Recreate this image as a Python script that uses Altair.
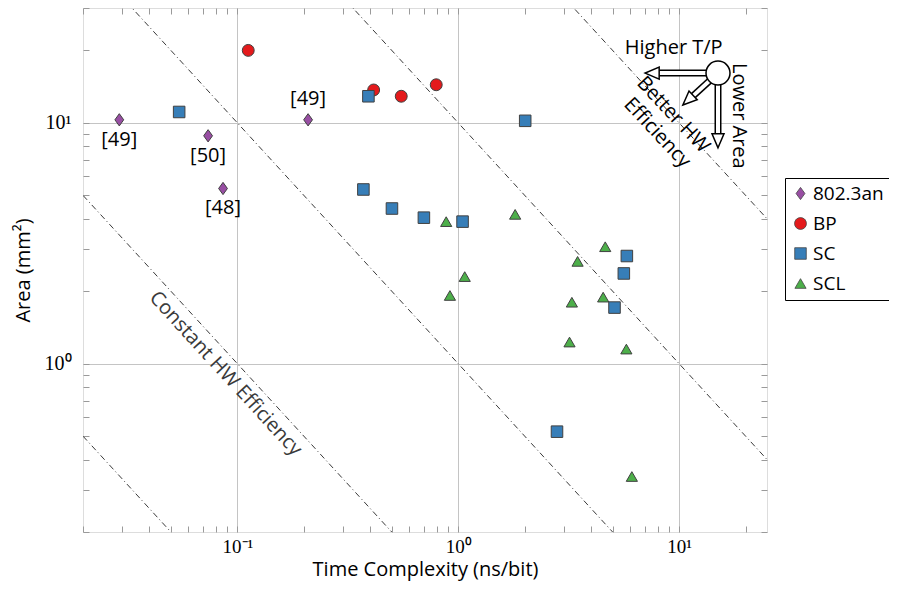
import altair as alt
import pandas as pd

# ---------------- data ----------------
series_names = ["802.3an", "BP", "SC", "SCL"]
series_colors = ["#984ea3", "#e41a1c", "#377eb8", "#4daf4a"]
DIAMOND = "M0,-1L0.72,0L0,1L-0.72,0Z"
series_shapes = [DIAMOND, "circle", "square", "triangle-up"]
series_sizes = [150, 125, 125, 165]

an_x = [0.0292, 0.0737, 0.0861, 0.209]
an_y = [10.3, 8.84, 5.34, 10.3]
an_ref = ["[49]", "[50]", "[48]", "[49]"]
an_ref_pos = ["below", "below", "below", "above"]

bp_x = [0.112, 0.414, 0.552, 0.795]
bp_y = [20.0, 13.7, 12.9, 14.4]

sc_x = [0.0545, 0.392, 0.372, 2.01, 0.501, 0.699, 1.046, 5.80, 5.62, 5.10, 2.80]
sc_y = [11.1, 12.9, 5.29, 10.2, 4.41, 4.04, 3.89, 2.80, 2.37, 1.71, 0.522]

scl_x = [0.882, 1.81, 4.63, 3.47, 1.07, 0.917, 3.27, 4.53, 3.19, 5.77, 6.11]
scl_y = [3.89, 4.17, 3.06, 2.66, 2.30, 1.92, 1.80, 1.89, 1.23, 1.15, 0.340]

# constant HW efficiency lines (area * time = const)
eff_products = [0.01, 0.1, 1, 10, 100]
eff_x_ends = [0.02, 25]

x_domain = [0.02, 25]
y_domain = [0.2, 30]
x_major = [0.1, 1, 10]
y_major = [1, 10]
x_ticks = [0.02, 0.03, 0.04, 0.05, 0.06, 0.07, 0.08, 0.09,
           0.1, 0.2, 0.3, 0.4, 0.5, 0.6, 0.7, 0.8, 0.9,
           1, 2, 3, 4, 5, 6, 7, 8, 9, 10, 20]
y_ticks = [0.2, 0.3, 0.4, 0.5, 0.6, 0.7, 0.8, 0.9,
           1, 2, 3, 4, 5, 6, 7, 8, 9, 10, 20, 30]

# annotation (direction legend)
circ_x = [15.0]
circ_y = [16.1]
shaft_x1 = [8.12, 15.0, 11.6]
shaft_y1 = [16.1, 9.0, 12.98]
tip_x = [7.02, 15.0, 10.4]
tip_y = [16.1, 7.88, 11.87]
tip_angle = [180, 90, 137]

ann_text = ["Higher T/P", "Lower Area", "Better HW", "Efficiency"]
ann_x = [9.45, 18.6, 9.4, 7.95]
ann_y = [20.4, 10.7, 10.8, 9.1]
ann_angle = [0, 90, 47, 47]

const_text = ["Constant HW Efficiency"]
const_x = [0.0883]
const_y = [0.909]
const_angle = [47.5]

FONT = "Open Sans"
SERIF = "Liberation Serif"
FS = 20

# ---------------- frames ----------------
pts = pd.concat([
    pd.DataFrame({"series": "802.3an", "x": an_x, "y": an_y}),
    pd.DataFrame({"series": "BP", "x": bp_x, "y": bp_y}),
    pd.DataFrame({"series": "SC", "x": sc_x, "y": sc_y}),
    pd.DataFrame({"series": "SCL", "x": scl_x, "y": scl_y}),
], ignore_index=True)

refs = pd.DataFrame({"x": an_x, "y": an_y, "ref": an_ref, "pos": an_ref_pos})

eff = pd.DataFrame([{"p": p, "x": xe, "y": p / xe} for p in eff_products for xe in eff_x_ends])

arrows = pd.DataFrame({
    "x0": circ_x * 3, "y0": circ_y * 3,
    "x1": shaft_x1, "y1": shaft_y1,
    "tx": tip_x, "ty": tip_y, "ang": tip_angle,
})
circ = pd.DataFrame({"x": circ_x, "y": circ_y})
ann = pd.DataFrame({"t": ann_text, "x": ann_x, "y": ann_y, "ang": ann_angle})
const = pd.DataFrame({"t": const_text, "x": const_x, "y": const_y, "ang": const_angle})

xs = alt.Scale(type="log", domain=x_domain, nice=False)
ys = alt.Scale(type="log", domain=y_domain, nice=False)

sup_x = ("datum.value < 0.5 ? '10\u207b\u00b9' : datum.value < 5 ? '10\u2070' : '10\u00b9'")
sup_y = ("datum.value < 5 ? '10\u2070' : '10\u00b9'")

legend = alt.Legend(
    title=None, orient="none", legendX=702, legendY=170,
    labelFont=FONT, labelFontSize=19, labelColor="#000",
    symbolSize=110, symbolStrokeColor="#444", symbolStrokeWidth=0.8,
    rowPadding=10, padding=6, strokeColor="#000", fillColor="#fff",
    labelOffset=3,
)

main_x_axis = alt.Axis(values=x_major, labelExpr=sup_x, grid=True, gridColor="#c4c4c4",
                       ticks=False, domain=False, labelFont=SERIF, labelFontSize=19,
                       labelColor="#000", labelPadding=5, title="Time Complexity (ns/bit)",
                       titleFont=FONT, titleFontSize=FS, titleFontWeight="normal",
                       titleColor="#000", titlePadding=3, orient="bottom")
main_y_axis = alt.Axis(values=y_major, labelExpr=sup_y, grid=True, gridColor="#c4c4c4",
                       ticks=False, domain=False, labelFont=SERIF, labelFontSize=20,
                       labelColor="#000", labelPadding=12, title="Area (mm\u00b2)",
                       titleFont=FONT, titleFontSize=FS, titleFontWeight="normal",
                       titleColor="#000", titlePadding=11, orient="left")


def tick_axis(orient, values):
    return alt.Axis(orient=orient, values=values, offset=-6, tickSize=6, tickColor="#9a9a9a",
                    tickWidth=1, labels=False, domain=False, grid=False, title=None)


points = alt.Chart(pts).mark_point(filled=True, opacity=1, stroke="#404040", strokeWidth=1).encode(
    x=alt.X("x:Q", scale=xs, axis=main_x_axis),
    y=alt.Y("y:Q", scale=ys, axis=main_y_axis),
    color=alt.Color("series:N", scale=alt.Scale(domain=series_names, range=series_colors), legend=legend),
    shape=alt.Shape("series:N", scale=alt.Scale(domain=series_names, range=series_shapes), legend=legend),
    size=alt.Size("series:N", scale=alt.Scale(domain=series_names, range=series_sizes), legend=None),
)

lines = alt.Chart(eff).mark_line(clip=True, color="#3a3a3a", strokeWidth=1,
                                 strokeDash=[6, 3, 1, 3]).encode(
    x=alt.X("x:Q", scale=xs, axis=tick_axis("bottom", x_ticks)),
    y=alt.Y("y:Q", scale=ys, axis=tick_axis("left", y_ticks)),
    detail="p:N",
)

const_label = alt.Chart(const).mark_text(font=FONT, fontSize=FS, color="#3a3a3a",
                                         align="center", baseline="middle").encode(
    x=alt.X("x:Q", scale=xs, axis=tick_axis("top", x_ticks)),
    y=alt.Y("y:Q", scale=ys, axis=tick_axis("right", y_ticks)),
    text="t:N", angle=alt.Angle("ang:Q", scale=None),
)

ref_below = alt.Chart(refs).transform_filter(alt.datum.pos == "below").mark_text(
    font=FONT, fontSize=FS, color="#000", baseline="middle", dy=20).encode(
    x=alt.X("x:Q", scale=xs, axis=None), y=alt.Y("y:Q", scale=ys, axis=None), text="ref:N")
ref_above = alt.Chart(refs).transform_filter(alt.datum.pos == "above").mark_text(
    font=FONT, fontSize=FS, color="#000", baseline="middle", dy=-21).encode(
    x=alt.X("x:Q", scale=xs, axis=None), y=alt.Y("y:Q", scale=ys, axis=None), text="ref:N")

shaft_outer = alt.Chart(arrows).mark_rule(color="#000", strokeWidth=7, strokeCap="butt").encode(
    x=alt.X("x0:Q", scale=xs, axis=None), y=alt.Y("y0:Q", scale=ys, axis=None),
    x2="x1:Q", y2="y1:Q")
shaft_inner = alt.Chart(arrows).mark_rule(color="#fff", strokeWidth=4, strokeCap="butt").encode(
    x=alt.X("x0:Q", scale=xs, axis=None), y=alt.Y("y0:Q", scale=ys, axis=None),
    x2="x1:Q", y2="y1:Q")
heads = alt.Chart(arrows).mark_point(shape="M0,0L-1.4,-0.6L-1.4,0.6Z", size=400, filled=True,
                                     fill="#fff", stroke="#000", strokeWidth=1.5, opacity=1).encode(
    x=alt.X("tx:Q", scale=xs, axis=None), y=alt.Y("ty:Q", scale=ys, axis=None),
    angle=alt.Angle("ang:Q", scale=None))
circle = alt.Chart(circ).mark_point(shape="circle", size=576, filled=True, fill="#fff",
                                    stroke="#000", strokeWidth=1.5, opacity=1).encode(
    x=alt.X("x:Q", scale=xs, axis=None), y=alt.Y("y:Q", scale=ys, axis=None))
ann_text_layer = alt.Chart(ann).mark_text(font=FONT, fontSize=FS, color="#000",
                                          align="center", baseline="middle").encode(
    x=alt.X("x:Q", scale=xs, axis=None), y=alt.Y("y:Q", scale=ys, axis=None),
    text="t:N", angle=alt.Angle("ang:Q", scale=None))

chart = alt.layer(
    lines, const_label, points, ref_below, ref_above,
    shaft_outer, shaft_inner, heads, circle, ann_text_layer,
).resolve_axis(x="independent", y="independent").properties(
    width=684, height=524,
    autosize=alt.AutoSizeParams(type="none"),
    padding={"left": 75, "top": 0, "right": 122, "bottom": 52},
).configure_view(stroke="#1a1a1a", strokeWidth=1.2).configure(background="#fff")

chart.save("out.html", embed_options={"renderer": "svg", "actions": False})
